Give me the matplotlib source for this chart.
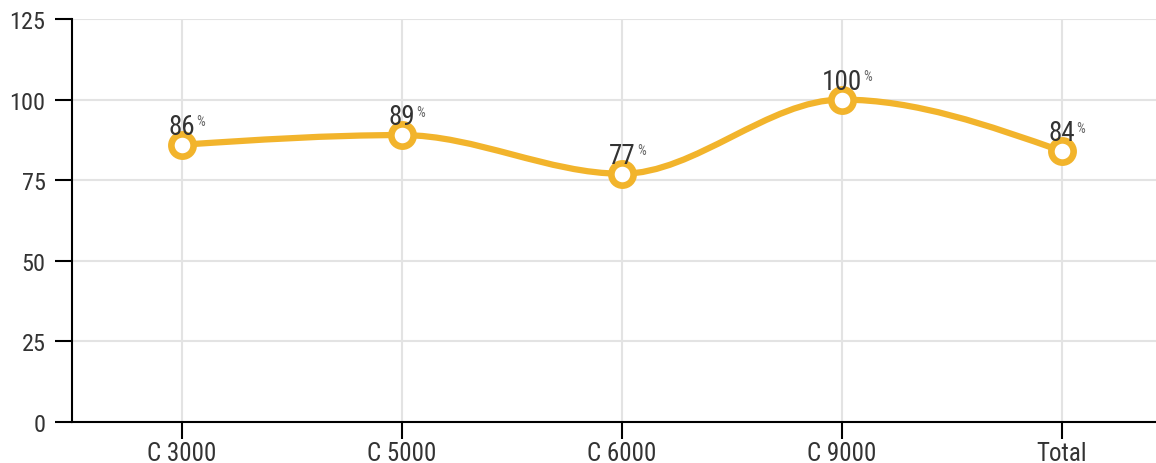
import numpy as np
import matplotlib
matplotlib.use('Agg')
import matplotlib.pyplot as plt
from matplotlib.path import Path
from matplotlib.patches import PathPatch

plt.rcParams['font.family'] = ['Roboto Condensed', 'Roboto', 'DejaVu Sans']

# Data
categories = ['C 3000', 'C 5000', 'C 6000', 'C 9000', 'Total']
values = [86, 89, 77, 100, 84]
y_ticks = [0, 25, 50, 75, 100, 125]

LINE_COLOR = '#f2b42c'
TEXT_COLOR = '#333333'


# monotone cubic curve (like d3.curveMonotoneX), returns a bezier path
def monotone_path(xs, ys):
    xs = np.asarray(xs, float)
    ys = np.asarray(ys, float)
    n = len(xs)
    h = np.diff(xs)
    s = np.diff(ys) / h
    t = np.zeros(n)
    for i in range(1, n - 1):
        p = (s[i - 1] * h[i] + s[i] * h[i - 1]) / (h[i - 1] + h[i])
        t[i] = (np.sign(s[i - 1]) + np.sign(s[i])) * min(abs(s[i - 1]), abs(s[i]), 0.5 * abs(p))
    t[0] = (3 * s[0] - t[1]) / 2
    t[-1] = (3 * s[-1] - t[-2]) / 2
    verts = [(xs[0], ys[0])]
    codes = [Path.MOVETO]
    for i in range(n - 1):
        dx = (xs[i + 1] - xs[i]) / 3
        verts += [(xs[i] + dx, ys[i] + dx * t[i]),
                  (xs[i + 1] - dx, ys[i + 1] - dx * t[i + 1]),
                  (xs[i + 1], ys[i + 1])]
        codes += [Path.CURVE4] * 3
    return Path(verts, codes)


fig = plt.figure(figsize=(11.56, 4.64), dpi=100)
ax = fig.add_axes([72 / 1156, 41 / 464, 1084 / 1156, 403 / 464])

x = np.arange(len(categories))
# x scale in band units: each band is 220px, image crops the last band
ax.set_xlim(-0.5, -0.5 + 1084 / 220)
ax.set_ylim(0, 125)

ax.set_xticks(x)
ax.set_xticklabels(categories)
ax.set_yticks(y_ticks)
ax.tick_params(axis='both', length=12, width=1.5, colors='black',
               labelsize=17.5, labelcolor=TEXT_COLOR)
ax.tick_params(axis='x', pad=1.5, labelsize=18)
ax.tick_params(axis='y', pad=7)

ax.grid(True, color='#e3e3e3', linewidth=1.5)
ax.set_axisbelow(True)
for side in ['top', 'right']:
    ax.spines[side].set_visible(False)
for side in ['left', 'bottom']:
    ax.spines[side].set_linewidth(1.5)
    ax.spines[side].set_color('black')
    ax.spines[side].set_zorder(3)

path = monotone_path(x, values)
ax.add_patch(PathPatch(path, facecolor='none', edgecolor=LINE_COLOR,
                       linewidth=4.5, capstyle='round', zorder=4))
ax.plot(x, values, linestyle='none', marker='o', markersize=16,
        markerfacecolor='white', markeredgecolor=LINE_COLOR,
        markeredgewidth=4.8, zorder=5)

for xi, v in zip(x, values):
    num = ax.annotate(str(v), xy=(xi, v), xytext=(0, 3.5), textcoords='offset points',
                      ha='center', va='bottom', fontsize=19.5, color=TEXT_COLOR, zorder=6)
    ax.annotate('%', xy=(1, 1), xycoords=num, xytext=(1, -1), textcoords='offset points',
                ha='left', va='top', fontsize=10, color='#666666', zorder=6)

fig.savefig('out.png', dpi=100)
